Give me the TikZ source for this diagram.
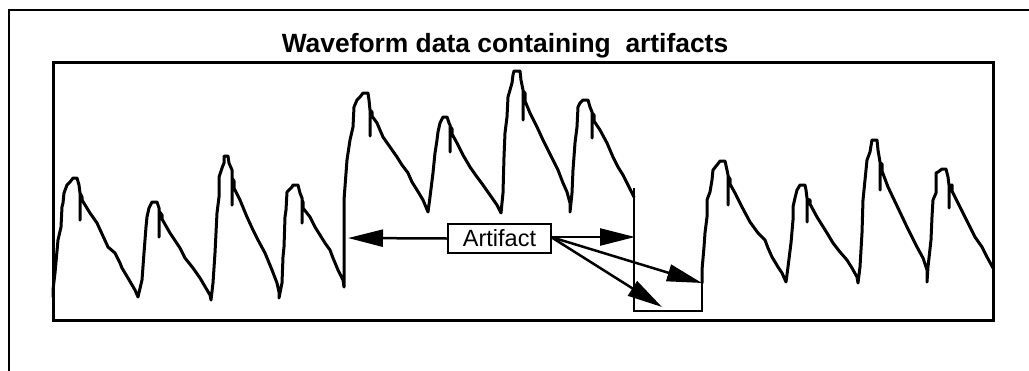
\documentclass[tikz,border=0pt]{standalone}
\usepackage{fontspec}
\setmainfont{Liberation Sans}
\usetikzlibrary{arrows.meta}
\tikzset{
  frame/.style={draw=black, line width=2.6pt},
  panel/.style={draw=black, line width=3pt},
  wave/.style={draw=black, line width=3pt, line join=round, line cap=round},
  bracket/.style={draw=black, line width=2.2pt},
  labelbox/.style={draw=black, line width=2.5pt, inner sep=0pt, minimum width=103pt, minimum height=29pt, font=\fontsize{23.5}{26}\selectfont},
  titletext/.style={inner sep=0pt, anchor=base, font=\fontsize{26.4}{30}\selectfont\bfseries},
  pointer/.style={draw=black, line width=2.5pt, -{Triangle[length=35pt,width=17pt]}}
}
\begin{document}
\begin{tikzpicture}[x=1pt,y=-1pt]
\useasboundingbox (0,0) rectangle (1029,370);
\fill[white] (0,0) rectangle (1029,370);
% outer frame (extends beyond picture)
\draw[frame] (9,371) -- (9,10) -- (1030,10);
% title
\node[titletext] (title) at (505,52) {Waveform data containing\ \ artifacts};
% inner panel
\draw[panel] (53,62) rectangle (993,320);
% waveform
\draw[wave]
 (53,297) -- (53,290) -- (55,273) -- (58,240) -- (61,227) -- (62,207) -- (63,203) -- (64,193) -- (67,185) -- (70,182) -- (73,178) -- (77,178) -- (79,185) -- (80,193) -- (80,220) -- (80,193) -- (82,197) -- (82,200) -- (90,213) -- (97,223) -- (108,247) -- (115,253) -- (120,263) -- (122,268) -- (128,278) -- (135,290) -- (138,297)
 -- (142,280) -- (144,253) -- (146,227) -- (147,217) -- (149,208) -- (152,202) -- (157,202) -- (159,208) -- (159,211) -- (159,237) -- (159,211) -- (162,215) -- (162,219) -- (170,233) -- (180,248) -- (185,258) -- (193,268) -- (200,278) -- (210,295) -- (211,300)
 -- (213,283) -- (215,253) -- (217,213) -- (219,197) -- (219,177) -- (222,168) -- (224,163) -- (224,156) -- (228,156) -- (229,163) -- (232,170) -- (232,177) -- (232,205) -- (232,178) -- (234,181) -- (234,188) -- (240,200) -- (247,217) -- (253,230) -- (258,240) -- (265,253) -- (272,270) -- (277,283) -- (279,292) -- (279,298)
 -- (282,283) -- (283,257) -- (284,247) -- (285,217) -- (286,210) -- (287,192) -- (292,187) -- (293,185) -- (298,185) -- (300,193) -- (302,198) -- (302,223) -- (302,200) -- (303,202) -- (303,208) -- (310,217) -- (315,227) -- (320,235) -- (325,243) -- (330,250) -- (333,258) -- (338,270) -- (343,280) -- (344,287)
 -- (344,200) -- (347,160) -- (350,140) -- (353,127) -- (354,107) -- (357,100) -- (360,97) -- (363,93) -- (368,93) -- (369,100) -- (370,110) -- (370,136) -- (370,110) -- (372,112) -- (372,116) -- (377,123) -- (383,137) -- (390,147) -- (397,157) -- (402,165) -- (408,173) -- (412,182) -- (417,190) -- (423,200) -- (428,212)
 -- (430,197) -- (433,173) -- (435,153) -- (437,140) -- (438,132) -- (440,123) -- (443,117) -- (447,117) -- (449,123) -- (450,125) -- (450,152) -- (450,126) -- (452,129) -- (452,134) -- (457,143) -- (463,155) -- (470,167) -- (477,177) -- (483,185) -- (490,195) -- (497,205) -- (501,213)
 -- (503,193) -- (504,157) -- (505,133) -- (507,117) -- (508,97) -- (510,90) -- (512,83) -- (513,75) -- (514,71) -- (520,71) -- (521,80) -- (523,90) -- (523,120) -- (523,91) -- (525,93) -- (525,101) -- (530,113) -- (537,127) -- (543,140) -- (548,150) -- (553,160) -- (558,170) -- (563,183) -- (567,192) -- (570,203) -- (570,212)
 -- (572,193) -- (573,170) -- (575,143) -- (577,127) -- (578,107) -- (580,103) -- (583,100) -- (588,100) -- (590,107) -- (592,112) -- (592,138) -- (592,113) -- (594,115) -- (594,121) -- (600,130) -- (607,143) -- (613,157) -- (618,167) -- (623,175) -- (627,183) -- (632,193) -- (634,197);
\draw[wave]
 (702,283) -- (702,270) -- (704,247) -- (705,233) -- (707,217) -- (707,200) -- (710,192) -- (712,180) -- (713,170) -- (717,165) -- (720,161) -- (725,161) -- (727,170) -- (728,175) -- (728,205) -- (728,176) -- (730,179) -- (730,184) -- (735,193) -- (742,207) -- (750,222) -- (758,233) -- (765,240) -- (768,248) -- (772,257) -- (778,267) -- (782,273) -- (786,282)
 -- (788,267) -- (791,243) -- (793,220) -- (793,207) -- (795,198) -- (797,190) -- (800,185) -- (805,185) -- (806,190) -- (807,198) -- (807,222) -- (807,199) -- (810,200) -- (810,204) -- (817,217) -- (827,233) -- (833,243) -- (840,252) -- (847,260) -- (852,268) -- (857,277) -- (858,283)
 -- (860,267) -- (862,233) -- (863,200) -- (865,180) -- (867,160) -- (870,152) -- (872,140) -- (877,140) -- (878,150) -- (880,162) -- (880,190) -- (880,163) -- (882,164) -- (882,171) -- (888,187) -- (898,208) -- (907,227) -- (917,247) -- (923,258) -- (927,270) -- (927,282)
 -- (928,267) -- (931,240) -- (932,217) -- (933,200) -- (936,193) -- (936,173) -- (938,172) -- (942,169) -- (946,169) -- (948,177) -- (949,185) -- (949,208) -- (949,186) -- (952,185) -- (952,191) -- (960,207) -- (968,223) -- (975,237) -- (982,247) -- (987,257) -- (993,268);
% artifact gap bracket
\draw[bracket] (634,188) -- (634,311) -- (702,311) -- (702,283);
% label and pointers
\node[labelbox] (art) at (499.5,238.5) {Artifact};
\coordinate (src) at (551,237);
\coordinate (tl) at (348,238);
\coordinate (tr) at (635,237);
\coordinate (td1) at (702,283);
\coordinate (td2) at (662,307);
\draw[pointer] (art.west) -- (tl);
\draw[pointer] (src) -- (tr);
\draw[pointer] (src) -- (td1);
\draw[pointer] (src) -- (td2);
\end{tikzpicture}
\end{document}
